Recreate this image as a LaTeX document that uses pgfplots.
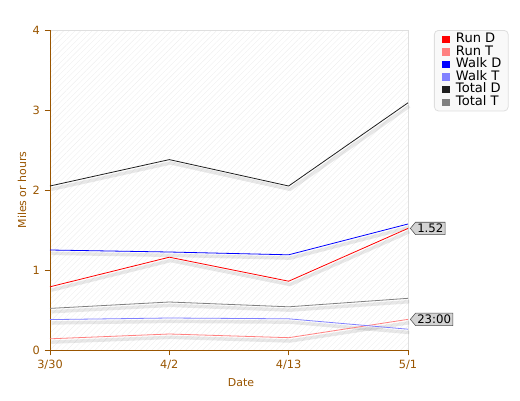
\documentclass[border=0pt]{standalone}
\usepackage{fontspec}
\setmainfont{DejaVu Sans}
\usepackage{pgfplots}
\pgfplotsset{compat=1.18}
\usetikzlibrary{patterns.meta,shapes.symbols}
\definecolor{axbrown}{RGB}{153,85,0}
\definecolor{runD}{RGB}{255,0,0}
\definecolor{runT}{RGB}{255,128,128}
\definecolor{walkD}{RGB}{0,0,255}
\definecolor{walkT}{RGB}{128,128,255}
\definecolor{totD}{RGB}{30,30,30}
\definecolor{totT}{RGB}{128,128,128}
\definecolor{lblfill}{RGB}{211,211,211}
\definecolor{legfill}{RGB}{249,249,249}
\definecolor{legdraw}{RGB}{222,222,222}
\pgfplotstableread{
x runD runT walkD walkT totD totT
0 0.79 0.14 1.25 0.38 2.05 0.52
1 1.16 0.20 1.225 0.40 2.38 0.60
2 0.86 0.154 1.19 0.39 2.05 0.54
3 1.52 0.383 1.575 0.26 3.09 0.646
}\datatable
\begin{document}
\begin{tikzpicture}
\begin{axis}[name=ax, scale only axis, width=268.5pt, height=240pt,
  xmin=0, xmax=3, ymin=0, ymax=4,
  xtick={0,1,2,3}, xticklabels={3/30,4/2,4/13,5/1}, ytick={0,1,2,3,4},
  axis x line*=bottom, axis y line*=left,
  axis line style={axbrown, line width=0.6pt, -},
  tick style={axbrown, line width=0.6pt}, tick align=outside, major tick length=4pt,
  ticklabel style={font=\fontsize{8.5}{10}\selectfont, text=axbrown},
  /pgf/number format/assume math mode=true,
  xlabel={Date}, ylabel={Miles or hours},
  label style={font=\fontsize{8.2}{10}\selectfont, text=axbrown},
  xlabel style={xshift=9pt},
  ylabel style={yshift=-2pt},
  axis background/.style={pattern={Lines[angle=45,distance=3pt,line width=0.3pt]}, pattern color=gray!13, draw=gray!25},
  clip=false,
  legend style={at={(1.0726,1)}, anchor=north west, draw=legdraw, fill=legfill, line width=0.6pt,
    rounded corners=3pt, font=\fontsize{9.8}{10}\selectfont, inner xsep=3pt, inner ysep=2pt,
    row sep=0pt, cells={anchor=west},
    nodes={text height=7.2pt, text depth=2.2pt, inner ysep=0pt, inner xsep=2pt}},
  legend image code/.code={\path (-3pt,0pt); \fill[#1, sharp corners] (0pt,-2.3pt) rectangle (4.6pt,2.3pt); \path (7.6pt,0pt);},
  shadow/.style={draw=black, opacity=0.09, line width=2.6pt, xshift=1pt, yshift=-2.5pt, forget plot},
]
\addplot[shadow] table[x=x,y=runT] {\datatable};
\addplot[shadow] table[x=x,y=walkT] {\datatable};
\addplot[shadow] table[x=x,y=totT] {\datatable};
\addplot[shadow] table[x=x,y=runD] {\datatable};
\addplot[shadow] table[x=x,y=walkD] {\datatable};
\addplot[shadow] table[x=x,y=totD] {\datatable};
\addplot[color=runD, line width=0.6pt] table[x=x,y=runD] {\datatable};
\addplot[color=runT, line width=0.6pt] table[x=x,y=runT] {\datatable};
\addplot[color=walkD, line width=0.6pt] table[x=x,y=walkD] {\datatable};
\addplot[color=walkT, line width=0.6pt] table[x=x,y=walkT] {\datatable};
\addplot[color=totD, line width=0.6pt] table[x=x,y=totD] {\datatable};
\addplot[color=totT, line width=0.6pt] table[x=x,y=totT] {\datatable};
\legend{Run D, Run T, Walk D, Walk T, Total D, Total T}
\node[signal, signal to=west, signal pointer angle=100, fill=lblfill, draw=gray!60!black,
  line width=0.4pt, inner sep=1.3pt, anchor=west, font=\fontsize{8.8}{10}\selectfont, xshift=1.5pt]
  at (axis cs:3,1.52) {1.52};
\node[signal, signal to=west, signal pointer angle=100, fill=lblfill, draw=gray!60!black,
  line width=0.4pt, inner sep=1.3pt, anchor=west, font=\fontsize{8.8}{10}\selectfont, xshift=1.5pt]
  at (axis cs:3,0.383) {23:00};
\end{axis}
\pgfresetboundingbox
\path (ax.south west) ++(-37.5pt,-37.5pt) rectangle ++(390pt,300pt);
\end{tikzpicture}
\end{document}
